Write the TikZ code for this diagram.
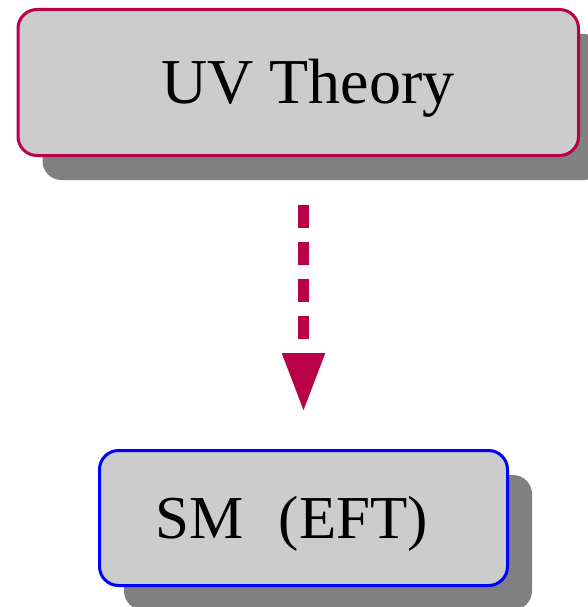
\documentclass[tikz,border=0pt]{standalone}
\usepackage{fontspec}
\setmainfont{Liberation Serif}
\usetikzlibrary{arrows.meta,shadows}
\definecolor{uvred}{RGB}{185,0,72}
\definecolor{boxfill}{RGB}{204,204,204}
\definecolor{shadowgray}{RGB}{128,128,128}
\tikzset{
  box/.style={draw, line width=3pt, fill=boxfill, rounded corners=19pt,
    inner sep=0pt, minimum width=#1, anchor=center,
    drop shadow={shadow xshift=24.5pt, shadow yshift=-24.5pt, fill=shadowgray, opacity=1}},
  boxtext/.style={inner sep=0pt, anchor=base west, font=\fontsize{64}{77}\selectfont},
  flow/.style={uvred, line width=11.5pt, dash pattern=on 23pt off 14pt,
    -{Triangle[length=59pt,width=40pt]}}
}
\begin{document}
\begin{tikzpicture}[x=1pt,y=-1pt]
\useasboundingbox (0,0) rectangle (588,607);
\node[box=560.5pt, minimum height=146pt, draw=uvred] (uv) at (298.25,82.5) {};
\node[box=408pt, minimum height=135pt, draw=blue] (sm) at (303.5,518) {};
\node[boxtext] (uvtext) at (161,103) {UV Theory};
\node[boxtext, font=\fontsize{61}{73}\selectfont] (smtext) at (155,538) {SM\ \ \hspace{5pt}(EFT)};
\draw[flow, shorten <=47.5pt, shorten >=37pt] (uv.south -| sm.north) -- (sm.north);
\end{tikzpicture}
\end{document}
